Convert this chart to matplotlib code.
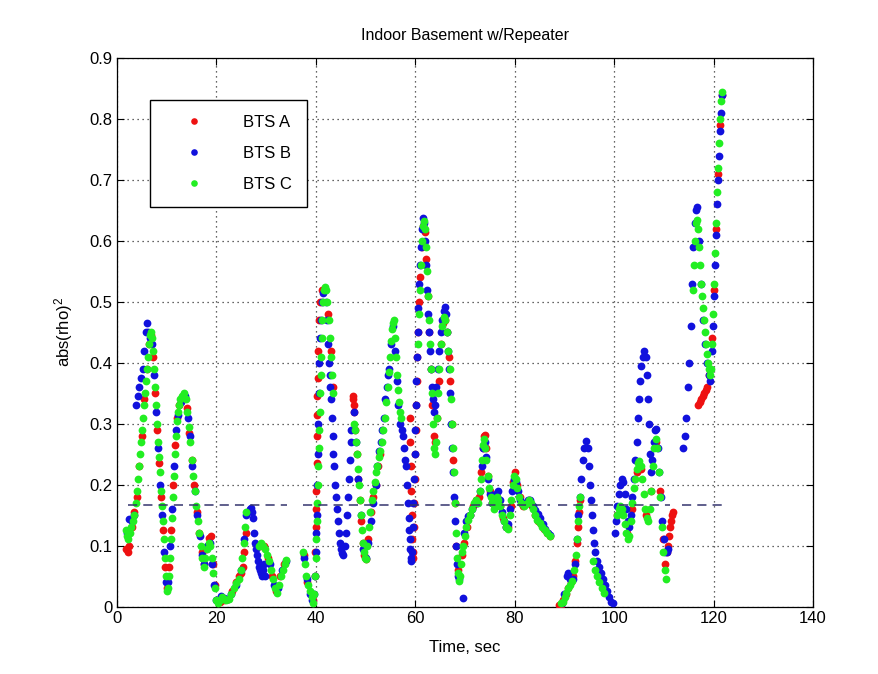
import numpy as np
import matplotlib
matplotlib.use('Agg')
from matplotlib import pyplot as plt
from matplotlib.ticker import FuncFormatter

plt.rcParams['font.family'] = ['Liberation Sans', 'DejaVu Sans']
plt.rcParams['mathtext.default'] = 'regular'

# (time [s], abs(rho)^2) samples per base station
BTS_A = [
    (1.9, 0.095), (2.2, 0.09), (2.5, 0.1), (3.0, 0.13), (3.5, 0.155), (4.0, 0.18), (4.5, 0.23), (5.0, 0.28),
    (5.5, 0.34), (6.0, 0.39), (6.5, 0.43), (6.9, 0.445), (7.3, 0.41), (7.7, 0.35), (8.1, 0.29), (8.5, 0.235),
    (8.9, 0.18), (9.3, 0.125), (9.7, 0.065), (10.1, 0.03), (10.5, 0.065), (10.9, 0.125), (11.3, 0.2),
    (11.7, 0.265), (12.1, 0.31), (12.5, 0.33), (13.0, 0.34), (13.5, 0.345), (14.0, 0.325), (14.5, 0.285),
    (15.0, 0.24), (15.5, 0.2), (16.0, 0.155), (16.5, 0.12), (17.0, 0.09), (17.5, 0.07), (18.0, 0.095),
    (18.5, 0.112), (18.9, 0.115), (19.3, 0.07), (19.7, 0.035), (20.1, 0.01), (20.8, 0.008), (21.6, 0.01),
    (22.4, 0.012), (23.2, 0.025), (24.0, 0.04), (24.6, 0.05), (25.0, 0.055), (25.3, 0.065), (25.6, 0.09),
    (26.0, 0.12), (28.8, 0.1), (29.6, 0.1), (30.4, 0.08), (31.2, 0.05), (32.0, 0.025), (32.8, 0.05),
    (33.6, 0.07),
    (37.6, 0.085), (38.3, 0.04), (39.0, 0.02), (39.5, 0.01), (39.8, 0.05), (39.9, 0.09), (40.0, 0.13),
    (40.05, 0.16), (40.1, 0.19), (40.15, 0.235), (40.2, 0.28), (40.25, 0.315), (40.3, 0.345), (40.35, 0.375),
    (40.45, 0.42), (40.6, 0.47), (40.8, 0.5), (41.2, 0.52), (41.8, 0.52), (42.4, 0.48), (43.0, 0.42),
    (43.5, 0.36), (47.4, 0.345), (47.5, 0.34), (47.6, 0.33), (47.7, 0.32), (47.9, 0.29), (48.2, 0.25),
    (48.5, 0.21), (48.8, 0.175), (49.1, 0.14), (49.4, 0.105), (49.7, 0.085), (50.0, 0.078), (50.5, 0.11),
    (51.0, 0.155), (51.5, 0.18), (52.0, 0.2), (52.5, 0.23), (53.0, 0.25), (58.9, 0.31), (59.0, 0.27),
    (59.1, 0.23), (59.2, 0.19), (59.3, 0.15), (59.4, 0.11), (59.5, 0.08), (59.6, 0.09), (59.7, 0.13),
    (59.8, 0.17), (59.9, 0.21), (60.0, 0.25), (60.1, 0.29), (60.2, 0.33), (60.3, 0.37), (60.4, 0.41),
    (60.6, 0.45), (60.8, 0.5), (61.0, 0.54), (61.3, 0.59), (61.6, 0.625), (61.9, 0.615), (62.2, 0.57),
    (62.5, 0.51), (62.8, 0.45), (63.1, 0.39), (63.4, 0.33), (63.7, 0.28), (64.0, 0.27), (64.3, 0.31),
    (64.7, 0.37), (65.1, 0.43), (65.5, 0.465), (65.9, 0.47), (66.3, 0.45), (66.7, 0.41), (67.0, 0.37),
    (67.3, 0.3), (67.6, 0.24), (67.9, 0.17), (68.2, 0.1), (68.5, 0.06), (68.8, 0.05), (69.3, 0.085),
    (69.8, 0.105), (70.4, 0.13), (71.0, 0.15), (71.6, 0.165), (72.2, 0.175), (72.8, 0.18), (73.3, 0.22),
    (73.6, 0.26), (73.85, 0.28), (74.0, 0.282), (74.2, 0.26), (74.6, 0.215), (75.0, 0.19), (75.5, 0.17),
    (76.0, 0.165), (76.5, 0.18), (77.0, 0.165), (77.6, 0.145), (78.2, 0.13), (78.7, 0.13), (79.2, 0.165),
    (79.7, 0.205), (80.1, 0.22), (80.5, 0.2), (81.0, 0.18), (81.6, 0.165), (82.2, 0.17), (82.8, 0.175),
    (83.4, 0.165), (84.0, 0.15), (84.6, 0.14), (85.2, 0.135), (85.8, 0.128), (86.4, 0.12), (87.0, 0.115),
    (89.0, 0.003), (89.4, 0.003), (89.8, 0.01), (90.3, 0.02), (90.8, 0.03), (91.3, 0.04), (91.8, 0.05),
    (92.2, 0.075), (92.5, 0.105), (92.7, 0.13), (92.9, 0.155), (93.1, 0.175), (100.5, 0.15), (101.5, 0.16),
    (102.5, 0.12), (103.5, 0.16), (104.5, 0.22), (105.5, 0.225), (106.5, 0.15), (107.5, 0.19), (108.4, 0.27),
    (109.2, 0.19), (109.8, 0.11), (110.3, 0.07), (110.7, 0.09), (110.9, 0.1), (111.1, 0.115), (111.3, 0.13),
    (111.5, 0.14), (111.7, 0.15), (111.9, 0.155),
    (116.9, 0.33), (117.2, 0.335), (117.5, 0.34), (117.8, 0.345), (118.1, 0.35), (118.4, 0.355),
    (118.7, 0.36), (119.0, 0.38), (119.3, 0.39), (119.6, 0.44), (120.0, 0.52), (120.4, 0.62), (120.8, 0.71),
    (121.2, 0.79), (121.6, 0.84),
]

BTS_B = [
    (2.0, 0.12), (2.5, 0.143), (3.0, 0.14), (3.5, 0.15), (3.9, 0.33), (4.2, 0.345), (4.5, 0.36), (4.9, 0.375),
    (5.2, 0.39), (5.5, 0.42), (5.8, 0.45), (5.95, 0.465), (6.3, 0.45), (6.7, 0.44), (7.1, 0.43), (7.5, 0.38),
    (7.9, 0.32), (8.3, 0.26), (8.7, 0.2), (9.1, 0.15), (9.5, 0.09), (9.9, 0.04), (10.3, 0.04), (10.7, 0.1),
    (11.1, 0.16), (11.5, 0.23), (11.9, 0.29), (12.3, 0.315), (12.8, 0.335), (13.2, 0.345), (13.7, 0.345),
    (14.2, 0.31), (14.6, 0.28), (15.1, 0.23), (15.6, 0.19), (16.1, 0.15), (16.6, 0.115), (17.1, 0.085),
    (17.6, 0.07), (18.2, 0.1), (18.7, 0.105), (19.2, 0.07), (19.6, 0.035), (20.0, 0.01), (20.6, 0.01),
    (21.0, 0.018), (21.5, 0.014), (22.3, 0.012), (23.0, 0.02), (24.0, 0.035), (25.0, 0.06), (25.6, 0.11),
    (26.0, 0.15), (26.8, 0.16), (27.0, 0.162), (27.2, 0.155), (27.4, 0.145), (27.6, 0.12), (27.8, 0.105),
    (28.0, 0.095), (28.2, 0.085), (28.4, 0.075), (28.6, 0.065), (28.8, 0.06), (29.0, 0.055), (29.2, 0.05),
    (29.4, 0.06), (29.6, 0.07), (29.8, 0.05), (30.8, 0.07), (31.6, 0.035), (32.4, 0.03), (33.2, 0.06),
    (34.0, 0.075),
    (37.6, 0.08), (38.2, 0.045), (38.8, 0.02), (39.3, 0.01), (39.6, 0.02), (39.8, 0.05), (40.0, 0.09),
    (40.1, 0.12), (40.2, 0.15), (40.3, 0.2), (40.4, 0.25), (40.5, 0.3), (40.6, 0.35), (40.7, 0.4),
    (40.85, 0.44), (41.0, 0.47), (41.2, 0.5), (41.5, 0.515), (41.8, 0.52), (42.1, 0.5), (42.3, 0.47),
    (42.5, 0.43), (42.7, 0.4), (42.8, 0.38), (42.9, 0.36), (43.05, 0.34), (43.2, 0.31), (43.35, 0.28),
    (43.5, 0.25), (43.7, 0.23), (43.9, 0.2), (44.1, 0.18), (44.3, 0.16), (44.5, 0.14), (44.7, 0.12),
    (44.9, 0.105), (45.1, 0.095), (45.3, 0.088), (45.5, 0.085), (45.8, 0.1), (46.0, 0.12), (46.2, 0.15),
    (46.4, 0.18), (46.6, 0.21), (46.8, 0.24), (47.0, 0.27), (47.1, 0.29), (47.6, 0.32), (48.0, 0.27),
    (48.5, 0.21), (49.0, 0.15), (49.5, 0.095), (50.0, 0.08), (50.5, 0.105), (51.0, 0.14), (51.5, 0.17),
    (52.0, 0.2), (52.4, 0.23), (52.8, 0.255), (53.1, 0.27), (53.4, 0.29), (53.7, 0.31), (54.0, 0.34),
    (54.3, 0.36), (54.6, 0.38), (54.8, 0.39), (55.2, 0.43), (55.6, 0.46), (56.0, 0.42), (56.3, 0.37),
    (56.6, 0.33), (57.0, 0.3), (57.4, 0.29), (57.6, 0.28), (57.8, 0.26), (58.0, 0.24), (58.2, 0.23),
    (58.4, 0.2), (58.6, 0.17), (58.7, 0.145), (58.8, 0.125), (58.9, 0.11), (59.0, 0.095), (59.1, 0.08),
    (59.2, 0.075), (59.3, 0.09), (59.45, 0.13), (59.6, 0.17), (59.75, 0.21), (59.9, 0.25), (60.0, 0.29),
    (60.1, 0.33), (60.2, 0.37), (60.3, 0.41), (60.45, 0.45), (60.6, 0.49), (60.8, 0.53), (61.0, 0.56),
    (61.2, 0.59), (61.4, 0.62), (61.6, 0.638), (61.8, 0.63), (62.0, 0.6), (62.2, 0.56), (62.4, 0.52),
    (62.6, 0.48), (62.8, 0.45), (63.0, 0.42), (63.2, 0.39), (63.4, 0.36), (63.6, 0.34), (63.8, 0.32),
    (64.0, 0.33), (64.2, 0.36), (64.5, 0.39), (64.8, 0.42), (65.1, 0.45), (65.4, 0.47), (65.7, 0.485),
    (66.0, 0.492), (66.2, 0.48), (66.4, 0.45), (66.6, 0.42), (66.8, 0.39), (67.0, 0.35), (67.2, 0.3),
    (67.4, 0.26), (67.6, 0.22), (67.8, 0.18), (68.0, 0.14), (68.2, 0.1), (68.4, 0.07), (68.6, 0.05),
    (68.8, 0.045), (69.6, 0.014), (69.9, 0.12), (70.2, 0.14), (70.6, 0.148), (71.0, 0.15), (71.5, 0.16),
    (72.0, 0.17), (72.5, 0.17), (73.0, 0.19), (73.4, 0.23), (73.7, 0.26), (74.0, 0.27), (74.3, 0.245),
    (74.7, 0.21), (75.1, 0.185), (75.5, 0.17), (75.9, 0.175), (76.3, 0.185), (76.7, 0.19), (77.1, 0.175),
    (77.5, 0.155), (77.9, 0.14), (78.3, 0.13), (78.7, 0.135), (79.1, 0.16), (79.5, 0.19), (79.9, 0.21),
    (80.3, 0.205), (80.7, 0.19), (81.1, 0.175), (81.6, 0.168), (82.1, 0.17), (82.6, 0.175), (83.1, 0.175),
    (83.6, 0.165), (84.1, 0.158), (84.6, 0.152), (85.1, 0.145), (85.6, 0.135), (86.1, 0.128), (86.6, 0.12),
    (87.0, 0.117),
    (89.5, 0.005), (90.0, 0.02), (90.5, 0.05), (90.8, 0.055), (91.2, 0.045), (91.7, 0.045), (92.1, 0.07),
    (92.5, 0.11), (92.8, 0.15), (93.1, 0.18), (93.4, 0.21), (93.7, 0.24), (94.0, 0.26), (94.4, 0.272),
    (94.7, 0.26), (94.9, 0.23), (95.1, 0.2), (95.3, 0.175), (95.5, 0.15), (95.7, 0.125), (95.9, 0.105),
    (96.2, 0.09), (96.6, 0.075), (97.0, 0.065), (97.4, 0.055), (97.8, 0.045), (98.2, 0.035), (98.6, 0.025),
    (99.0, 0.015), (99.4, 0.008), (99.7, 0.005), (100.1, 0.12), (100.3, 0.14), (100.6, 0.165), (100.9, 0.185),
    (101.2, 0.2), (101.5, 0.21), (101.8, 0.205), (102.1, 0.185), (102.4, 0.16), (102.7, 0.14), (103.0, 0.13),
    (103.3, 0.15), (103.6, 0.18), (103.9, 0.21), (104.2, 0.24), (104.5, 0.27), (104.8, 0.31), (105.0, 0.34),
    (105.2, 0.37), (105.5, 0.395), (105.8, 0.41), (106.1, 0.42), (106.4, 0.41), (106.6, 0.38), (106.8, 0.34),
    (107.0, 0.3), (107.2, 0.25), (107.4, 0.22), (107.7, 0.24), (108.0, 0.27), (108.3, 0.29), (108.5, 0.292),
    (108.8, 0.26), (109.1, 0.22), (109.4, 0.18), (109.7, 0.14), (110.0, 0.11), (110.3, 0.09), (110.6, 0.09),
    (110.9, 0.095),
    (113.9, 0.26), (114.2, 0.28), (114.5, 0.31), (114.8, 0.36), (115.1, 0.4), (115.4, 0.46), (115.7, 0.53),
    (115.9, 0.59), (116.2, 0.63), (116.5, 0.65), (116.7, 0.655), (117.0, 0.6), (117.4, 0.53), (117.8, 0.47),
    (118.2, 0.43), (118.6, 0.4), (119.0, 0.38), (119.3, 0.37), (119.6, 0.42), (119.8, 0.46), (120.0, 0.51),
    (120.2, 0.56), (120.4, 0.61), (120.6, 0.66), (120.8, 0.7), (121.0, 0.74), (121.2, 0.78), (121.4, 0.81),
    (121.6, 0.84),
]

BTS_C = [
    (1.8, 0.125), (2.0, 0.115), (2.3, 0.11), (2.6, 0.12), (2.9, 0.13), (3.2, 0.14), (3.5, 0.15), (3.8, 0.17),
    (4.0, 0.19), (4.2, 0.21), (4.4, 0.23), (4.6, 0.25), (4.8, 0.27), (5.0, 0.29), (5.2, 0.31), (5.4, 0.33),
    (5.6, 0.35), (5.8, 0.37), (6.0, 0.39), (6.2, 0.41), (6.4, 0.43), (6.6, 0.445), (6.8, 0.45), (7.0, 0.44),
    (7.2, 0.42), (7.4, 0.39), (7.6, 0.36), (7.8, 0.33), (8.0, 0.3), (8.2, 0.27), (8.4, 0.245), (8.6, 0.22),
    (8.8, 0.19), (9.0, 0.165), (9.2, 0.14), (9.4, 0.11), (9.6, 0.08), (9.8, 0.05), (10.0, 0.025),
    (10.2, 0.03), (10.4, 0.05), (10.6, 0.08), (10.8, 0.11), (11.0, 0.145), (11.2, 0.18), (11.4, 0.215),
    (11.6, 0.25), (11.8, 0.28), (12.0, 0.305), (12.2, 0.32), (12.4, 0.33), (12.7, 0.34), (13.0, 0.345),
    (13.4, 0.35), (13.8, 0.34), (14.1, 0.32), (14.4, 0.295), (14.7, 0.27), (15.0, 0.24), (15.3, 0.215),
    (15.6, 0.19), (15.9, 0.165), (16.2, 0.14), (16.5, 0.12), (16.8, 0.1), (17.1, 0.08), (17.5, 0.065),
    (17.8, 0.08), (18.1, 0.095), (18.5, 0.105), (18.8, 0.1), (19.1, 0.08), (19.4, 0.055), (19.7, 0.03),
    (20.0, 0.01), (20.4, 0.005), (20.8, 0.01), (21.2, 0.015), (21.6, 0.012), (22.0, 0.01), (22.5, 0.012),
    (23.0, 0.02), (23.5, 0.03), (24.0, 0.038), (24.5, 0.045), (24.9, 0.06), (25.2, 0.08), (25.5, 0.105),
    (25.8, 0.13), (26.0, 0.155), (28.6, 0.1), (29.0, 0.105), (29.4, 0.1), (29.8, 0.095), (30.2, 0.085),
    (30.6, 0.075), (31.0, 0.06), (31.4, 0.045), (31.8, 0.03), (32.1, 0.022), (32.5, 0.035), (32.9, 0.05),
    (33.3, 0.06), (33.7, 0.07), (34.0, 0.077),
    (37.5, 0.09), (37.8, 0.07), (38.1, 0.05), (38.4, 0.035), (38.8, 0.025), (39.2, 0.015), (39.5, 0.005),
    (39.7, 0.02), (39.85, 0.05), (40.0, 0.08), (40.1, 0.11), (40.2, 0.14), (40.3, 0.17), (40.4, 0.2),
    (40.5, 0.23), (40.6, 0.26), (40.7, 0.29), (40.8, 0.32), (40.9, 0.35), (41.0, 0.38), (41.1, 0.41),
    (41.2, 0.44), (41.3, 0.47), (41.45, 0.5), (41.6, 0.52), (41.8, 0.525), (42.0, 0.52), (42.3, 0.5),
    (42.6, 0.47), (42.9, 0.44), (43.1, 0.41), (43.3, 0.38), (43.5, 0.35),
    (47.6, 0.3), (47.8, 0.29), (48.0, 0.27), (48.2, 0.25), (48.4, 0.225), (48.6, 0.2), (48.8, 0.175),
    (49.0, 0.15), (49.2, 0.125), (49.4, 0.105), (49.6, 0.09), (49.8, 0.08), (50.0, 0.078), (50.3, 0.1),
    (50.6, 0.13), (50.9, 0.155), (51.2, 0.175), (51.5, 0.19), (51.8, 0.205), (52.1, 0.22), (52.4, 0.23),
    (52.7, 0.245), (53.0, 0.255), (53.3, 0.27), (53.6, 0.29), (53.9, 0.31), (54.2, 0.335), (54.5, 0.36),
    (54.7, 0.385), (54.9, 0.41), (55.1, 0.435), (55.3, 0.455), (55.5, 0.465), (55.7, 0.47), (55.9, 0.44),
    (56.1, 0.41), (56.3, 0.38), (56.5, 0.355), (56.7, 0.335), (56.9, 0.32), (57.1, 0.31),
    (60.5, 0.43), (60.7, 0.48), (60.9, 0.52), (61.1, 0.56), (61.3, 0.6), (61.5, 0.625), (61.7, 0.633),
    (61.9, 0.62), (62.1, 0.59), (62.3, 0.55), (62.5, 0.51), (62.7, 0.47), (62.9, 0.43), (63.1, 0.39),
    (63.3, 0.35), (63.5, 0.3), (63.7, 0.26), (63.9, 0.25), (64.1, 0.27), (64.3, 0.31), (64.5, 0.35),
    (64.8, 0.39), (65.1, 0.43), (65.4, 0.46), (65.7, 0.475), (66.0, 0.47), (66.3, 0.45), (66.6, 0.42),
    (66.9, 0.39), (67.1, 0.34), (67.3, 0.3), (67.5, 0.26), (67.7, 0.22), (67.9, 0.17), (68.1, 0.12),
    (68.3, 0.08), (68.5, 0.055), (68.7, 0.042), (68.9, 0.05), (69.1, 0.07), (69.4, 0.09), (69.7, 0.1),
    (70.0, 0.115), (70.3, 0.13), (70.7, 0.142), (71.0, 0.15), (71.4, 0.16), (71.8, 0.17), (72.2, 0.175),
    (72.6, 0.17), (73.0, 0.19), (73.3, 0.21), (73.5, 0.24), (73.7, 0.265), (73.9, 0.275), (74.1, 0.26),
    (74.3, 0.24), (74.6, 0.215), (74.9, 0.195), (75.2, 0.18), (75.5, 0.17), (75.8, 0.16), (76.1, 0.17),
    (76.4, 0.18), (76.7, 0.175), (77.0, 0.165), (77.4, 0.15), (77.8, 0.14), (78.2, 0.13), (78.6, 0.128),
    (79.0, 0.15), (79.3, 0.175), (79.6, 0.2), (79.9, 0.215), (80.2, 0.21), (80.5, 0.195), (80.9, 0.18),
    (81.3, 0.17), (81.8, 0.165), (82.3, 0.168), (82.8, 0.175), (83.2, 0.17), (83.6, 0.16), (84.0, 0.15),
    (84.5, 0.142), (85.0, 0.137), (85.5, 0.13), (86.0, 0.125), (86.5, 0.12), (87.0, 0.115),
    (89.3, 0.005), (89.7, 0.008), (90.1, 0.015), (90.4, 0.022), (90.8, 0.03), (91.2, 0.035), (91.6, 0.042),
    (92.0, 0.06), (92.3, 0.085), (92.5, 0.11), (92.7, 0.14), (92.9, 0.165), (93.1, 0.18), (95.8, 0.075),
    (96.2, 0.06), (96.6, 0.05), (97.0, 0.04), (97.5, 0.03), (98.0, 0.022), (100.6, 0.15), (100.9, 0.16),
    (101.2, 0.165), (101.5, 0.16), (101.8, 0.15), (102.1, 0.135), (102.4, 0.12), (102.7, 0.11), (103.0, 0.115),
    (103.3, 0.14), (103.6, 0.17), (103.9, 0.195), (104.2, 0.21), (104.5, 0.225), (104.8, 0.235),
    (105.1, 0.238), (105.4, 0.23), (105.7, 0.21), (106.0, 0.185), (106.3, 0.16), (106.6, 0.145), (106.9, 0.14),
    (107.2, 0.16), (107.5, 0.19), (107.8, 0.23), (108.1, 0.26), (108.4, 0.275), (108.7, 0.26), (109.0, 0.22),
    (109.3, 0.18), (109.6, 0.13), (109.9, 0.09), (110.2, 0.06), (110.4, 0.045),
    (115.8, 0.52), (116.0, 0.56), (116.2, 0.6), (116.4, 0.63), (116.6, 0.635), (116.8, 0.62), (117.0, 0.59),
    (117.2, 0.56), (117.4, 0.53), (117.6, 0.51), (117.8, 0.49), (118.0, 0.47), (118.2, 0.45), (118.4, 0.43),
    (118.6, 0.415), (118.8, 0.4), (119.0, 0.39), (119.2, 0.38), (119.4, 0.39), (119.6, 0.43), (119.8, 0.48),
    (120.0, 0.53), (120.2, 0.58), (120.4, 0.63), (120.6, 0.68), (120.8, 0.72), (121.0, 0.76), (121.2, 0.8),
    (121.4, 0.83), (121.6, 0.845),
]

# detection threshold, drawn over each recording interval
THR_LEVEL = 0.167
THR_START = [2.2, 37.5, 88.7, 113.6]
THR_END = [34.1, 87.0, 111.3, 121.9]

NAMES = ['BTS A', 'BTS B', 'BTS C']
COLORS = ['#ee1111', '#1111dd', '#22ee22']


def tick_fmt(value, pos):
    if abs(value) < 1e-9:
        return '0'
    if value < 1:
        return '{:.1f}'.format(value)
    return '{:.0f}'.format(value)


fig = plt.figure(figsize=(8.79, 6.74), dpi=100, facecolor='w')
ax = fig.add_axes([0.1331, 0.1001, 0.7918, 0.8138])

for pts, col, name in zip([BTS_A, BTS_B, BTS_C], COLORS, NAMES):
    t, v = zip(*pts)
    ax.plot(t, v, linestyle='none', marker='o', markersize=5.6, markeredgewidth=0,
            color=col, label=name, zorder=3)

for s, e in zip(THR_START, THR_END):
    ax.plot([s, e], [THR_LEVEL, THR_LEVEL], linestyle='--', dashes=(6, 4), color='#34346e',
            linewidth=1.1, zorder=4)

ax.set_xlim(0, 140)
ax.set_ylim(0, 0.9)
ax.set_xticks(np.arange(0, 141, 20))
ax.set_yticks(np.arange(0, 0.91, 0.1))
ax.xaxis.set_major_formatter(FuncFormatter(tick_fmt))
ax.yaxis.set_major_formatter(FuncFormatter(tick_fmt))
ax.tick_params(direction='in', top=True, right=True, length=5, width=0.8, labelsize=12)
ax.grid(True, linestyle=(0, (1, 3)), color='#333333', linewidth=0.9)
for sp in ax.spines.values():
    sp.set_linewidth(0.9)

ax.set_title('Indoor Basement w/Repeater', fontsize=11.5, pad=13)
ax.set_xlabel('Time, sec', fontsize=12, labelpad=10)
ax.set_ylabel('abs(rho)$^2$', fontsize=12, labelpad=10)

leg = ax.legend(loc='upper left', bbox_to_anchor=(0.047, 0.923), fontsize=12, frameon=True,
                fancybox=False, edgecolor='k', framealpha=1, borderpad=0.9, labelspacing=0.95,
                handlelength=3.5, handletextpad=1.2, borderaxespad=0, markerscale=0.85)
leg.get_frame().set_linewidth(1.0)

plt.savefig('out.png', dpi=100, facecolor='w')
plt.close()
